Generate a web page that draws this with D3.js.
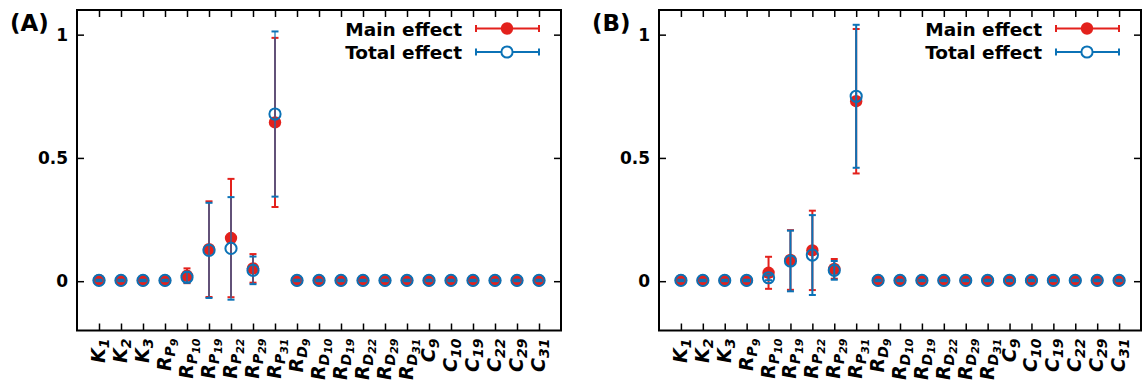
<!DOCTYPE html>
<html><head><meta charset="utf-8">
<script src="https://cdn.jsdelivr.net/npm/d3@7"></script>
<style>
html,body{margin:0;padding:0;background:#fff;}
svg{display:block;font-family:"DejaVu Sans",sans-serif;}
</style></head>
<body><svg id="chart" width="1143" height="382"></svg>
<script>
// ---------- data ----------
const categories = ["K_1","K_2","K_3","R_P_9","R_P_10","R_P_19","R_P_22","R_P_29","R_P_31",
  "R_D_9","R_D_10","R_D_19","R_D_22","R_D_29","R_D_31","C_9","C_10","C_19","C_22","C_29","C_31"];
const yTicks = [0, 0.5, 1];
const yTickLabels = ["0", "0.5", "1"];
const seriesNames = ["Main effect", "Total effect"];
const panelLabels = ["(A)", "(B)"];

const mainA     = [0.004,0.003,0.003,0.003,0.022,0.130,0.175,0.052,0.644,0.003,0.003,0.003,0.003,0.003,0.003,0.003,0.003,0.003,0.003,0.003,0.003];
const mainAErr  = [0.003,0.003,0.003,0.003,0.030,0.194,0.240,0.058,0.343,0.003,0.003,0.003,0.003,0.003,0.003,0.003,0.003,0.003,0.003,0.003,0.003];
const totalA    = [0.003,0.003,0.003,0.003,0.016,0.125,0.133,0.044,0.678,0.003,0.003,0.003,0.003,0.003,0.003,0.003,0.003,0.003,0.003,0.003,0.003];
const totalAErr = [0.003,0.003,0.003,0.003,0.022,0.193,0.208,0.056,0.335,0.003,0.003,0.003,0.003,0.003,0.003,0.003,0.003,0.003,0.003,0.003,0.003];

const mainB     = [0.004,0.003,0.003,0.003,0.034,0.086,0.125,0.050,0.730,0.003,0.003,0.003,0.003,0.003,0.003,0.003,0.003,0.003,0.003,0.003,0.003];
const mainBErr  = [0.003,0.003,0.003,0.003,0.065,0.121,0.161,0.040,0.293,0.003,0.003,0.003,0.003,0.003,0.003,0.003,0.003,0.003,0.003,0.003,0.003];
const totalB    = [0.003,0.003,0.003,0.003,0.014,0.082,0.106,0.044,0.750,0.003,0.003,0.003,0.003,0.003,0.003,0.003,0.003,0.003,0.003,0.003,0.003];
const totalBErr = [0.003,0.003,0.003,0.003,0.010,0.123,0.162,0.038,0.290,0.003,0.003,0.003,0.003,0.003,0.003,0.003,0.003,0.003,0.003,0.003,0.003];

// ---------- style ----------
const RED = "#e3211c", BLUE = "#0b72b6";
const svg = d3.select("#chart");

function drawPanel(opt){
  const {left, right, top, bottom, main, mainErr, total, totalErr, label, barOpacity} = opt;
  const g = svg.append("g");
  const x = d3.scaleLinear().domain([-1, categories.length]).range([left, right]);
  const y = d3.scaleLinear().domain([-0.2, 1.1]).range([bottom, top]);
  const idx = categories.map((c,i)=>i);
  const tl = 7;

  // ticks (mirrored, inward)
  g.append("g").attr("transform",`translate(0,${bottom})`)
    .call(d3.axisBottom(x).tickValues(idx).tickSize(-tl).tickFormat(""))
    .call(a=>a.select(".domain").remove());
  g.append("g").attr("transform",`translate(0,${top})`)
    .call(d3.axisTop(x).tickValues(idx).tickSize(-tl).tickFormat(""))
    .call(a=>a.select(".domain").remove());
  g.append("g").attr("transform",`translate(${left},0)`)
    .call(d3.axisLeft(y).tickValues(yTicks).tickSize(-tl).tickFormat(""))
    .call(a=>a.select(".domain").remove());
  g.append("g").attr("transform",`translate(${right},0)`)
    .call(d3.axisRight(y).tickValues(yTicks).tickSize(-tl).tickFormat(""))
    .call(a=>a.select(".domain").remove());
  g.selectAll(".tick line").attr("stroke","#000").attr("stroke-width",1.5);

  // y labels
  g.selectAll("text.ylab").data(yTicks).join("text").attr("class","ylab")
    .attr("x", left - 9).attr("y", d=>y(d)+6)
    .attr("text-anchor","end").attr("font-size",17).attr("font-weight","bold")
    .text((d,i)=>yTickLabels[i]);

  // x labels (rotated, with nested subscripts)
  const xl = g.selectAll("text.xlab").data(categories).join("text").attr("class","xlab")
    .attr("transform",(d,i)=>`translate(${x(i)+6},${bottom+8}) rotate(-90)`)
    .attr("text-anchor","end").attr("font-size",19).attr("font-weight","bold").attr("font-style","italic");
  xl.each(function(d){
    const parts = d.split("_");
    const t = d3.select(this);
    t.append("tspan").text(parts[0]);
    t.append("tspan").attr("font-size",14).attr("dy",4).text(parts[1]);
    if(parts.length>2){
      t.append("tspan").attr("font-size",11).attr("dy",3).text(parts[2]);
    }
  });

  // series
  function series(vals, errs, color, filled, op){
    const s = g.append("g");
    s.selectAll("line.bar").data(vals).join("line")
      .attr("x1",(d,i)=>x(i)).attr("x2",(d,i)=>x(i))
      .attr("y1",(d,i)=>y(d+errs[i])).attr("y2",(d,i)=>y(d-errs[i]))
      .attr("stroke",color).attr("stroke-width",2).attr("stroke-opacity",op);
    s.selectAll("line.capT").data(vals).join("line")
      .attr("x1",(d,i)=>x(i)-3.5).attr("x2",(d,i)=>x(i)+3.5)
      .attr("y1",(d,i)=>y(d+errs[i])).attr("y2",(d,i)=>y(d+errs[i]))
      .attr("stroke",color).attr("stroke-width",2);
    s.selectAll("line.capB").data(vals).join("line")
      .attr("x1",(d,i)=>x(i)-3.5).attr("x2",(d,i)=>x(i)+3.5)
      .attr("y1",(d,i)=>y(d-errs[i])).attr("y2",(d,i)=>y(d-errs[i]))
      .attr("stroke",color).attr("stroke-width",2);
    if(filled){
      s.selectAll("circle").data(vals).join("circle")
        .attr("cx",(d,i)=>x(i)).attr("cy",d=>y(d)).attr("r",6.2).attr("fill",color);
    } else {
      s.selectAll("circle").data(vals).join("circle")
        .attr("cx",(d,i)=>x(i)).attr("cy",d=>y(d)).attr("r",5.6)
        .attr("fill","none").attr("stroke",color).attr("stroke-width",2);
    }
  }
  series(main, mainErr, RED, true, 1);
  series(total, totalErr, BLUE, false, barOpacity);

  // frame
  g.append("rect").attr("x",left).attr("y",top).attr("width",right-left).attr("height",bottom-top)
    .attr("fill","none").attr("stroke","#000").attr("stroke-width",2);

  // legend
  const legRows = [{name:seriesNames[0],color:RED,filled:true,yy:28.5},{name:seriesNames[1],color:BLUE,filled:false,yy:52}];
  legRows.forEach(r=>{
    const lx0 = right-85, lx1 = right-22, mx = right-54;
    g.append("text").attr("x",right-99).attr("y",r.yy+7).attr("text-anchor","end")
      .attr("font-size",18.5).attr("font-weight","bold").text(r.name);
    g.append("line").attr("x1",lx0).attr("x2",lx1).attr("y1",r.yy).attr("y2",r.yy).attr("stroke",r.color).attr("stroke-width",2);
    [lx0,lx1].forEach(xx=>g.append("line").attr("x1",xx).attr("x2",xx).attr("y1",r.yy-3.5).attr("y2",r.yy+3.5).attr("stroke",r.color).attr("stroke-width",2));
    if(r.filled) g.append("circle").attr("cx",mx).attr("cy",r.yy).attr("r",6.2).attr("fill",r.color);
    else g.append("circle").attr("cx",mx).attr("cy",r.yy).attr("r",5.6).attr("fill","#fff").attr("stroke",r.color).attr("stroke-width",2);
  });

  // panel label
  g.append("text").attr("x",left-67).attr("y",30.5).attr("font-size",23).attr("font-weight","bold").text(label);
}

drawPanel({left:77,right:561,top:10,bottom:330.5,main:mainA,mainErr:mainAErr,total:totalA,totalErr:totalAErr,label:panelLabels[0],barOpacity:0.6});
drawPanel({left:659,right:1141,top:10,bottom:330.5,main:mainB,mainErr:mainBErr,total:totalB,totalErr:totalBErr,label:panelLabels[1],barOpacity:1});
</script></body></html>
